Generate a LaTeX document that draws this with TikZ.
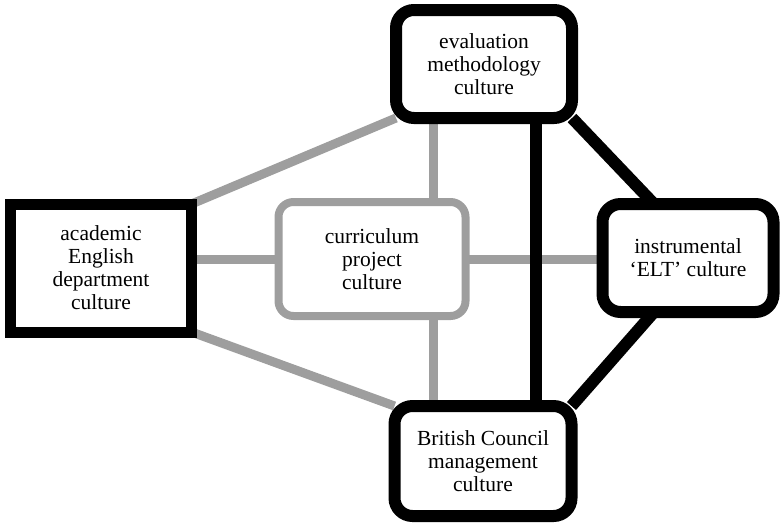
\documentclass[tikz,border=0pt]{standalone}
\usepackage{fontspec}
\setmainfont{Liberation Serif}
\usetikzlibrary{backgrounds}
\begin{document}
\begin{tikzpicture}[x=1pt,y=-1pt,
  txt/.style={align=center,font=\fontsize{21.5}{23}\selectfont,inner sep=0pt,outer sep=0pt},
  blackbox/.style={txt,draw=black,line width=12pt,fill=white,rounded corners=18pt},
  sqbox/.style={txt,draw=black,line width=11pt,fill=white},
  graybox/.style={txt,draw=black!38,line width=8pt,fill=white,rounded corners=15pt},
  grayline/.style={draw=black!38,line width=9pt},
  blackline/.style={draw=black,line width=12pt}]
\useasboundingbox (0,0) rectangle (781,522);
\node[blackbox,minimum width=176pt,minimum height=108pt] (eval) at (484,64) {evaluation\\methodology\\culture};
\node[sqbox,minimum width=181pt,minimum height=128pt] (acad) at (101,268) {academic\\English\\department\\culture};
\node[graybox,minimum width=187pt,minimum height=114pt] (curr) at (372,259) {curriculum\\project\\culture};
\node[blackbox,minimum width=171pt,minimum height=108pt] (instr) at (688,258) {instrumental\\`ELT' culture};
\node[blackbox,minimum width=177pt,minimum height=110pt] (bc) at (483,461) {British Council\\management\\culture};
\begin{scope}[on background layer]
\path[grayline] (acad.north east) -- (eval.south west);
\path[grayline] (acad.south east) -- (bc.north west);
\path[grayline] (acad.east |- curr.west) -- (curr.west);
\path[grayline] (curr.east) -- (curr.east -| instr.west);
\coordinate (ct) at ([xshift=61pt]curr.north);
\coordinate (cb) at ([xshift=61pt]curr.south);
\path[grayline] (ct) -- (ct |- eval.south);
\path[grayline] (cb) -- (cb |- bc.north);
\coordinate (ev) at ([xshift=52pt]eval.south);
\path[blackline] (ev) -- (ev |- bc.north);
\path[blackline] (eval.south east) -- ([xshift=-34pt]instr.north);
\path[blackline] ([xshift=-34pt]instr.south) -- (bc.north east);
\end{scope}
\end{tikzpicture}
\end{document}
